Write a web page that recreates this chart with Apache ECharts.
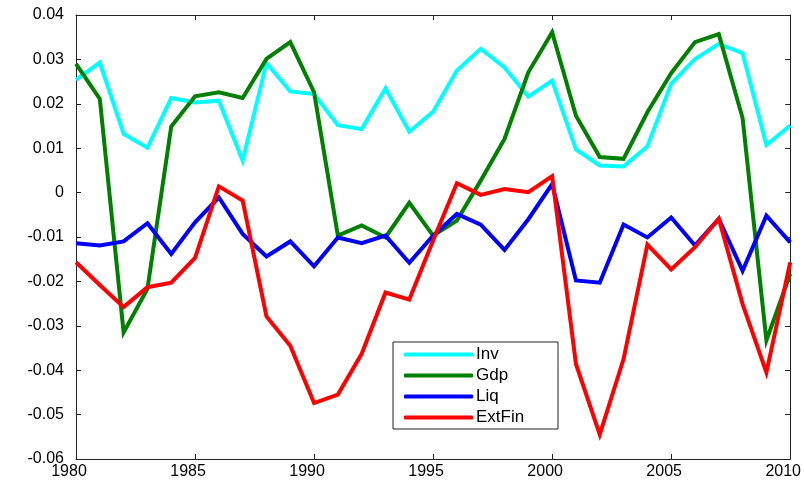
<!DOCTYPE html>
<html>
<head>
<meta charset="utf-8">
<script src="https://cdn.jsdelivr.net/npm/echarts@6/dist/echarts.min.js"></script>
<style>html,body{margin:0;padding:0;background:#fff}#c{width:804px;height:485px}</style>
</head>
<body>
<div id="c"></div>
<script>
const years = [1980,1981,1982,1983,1984,1985,1986,1987,1988,1989,1990,1991,1992,1993,1994,1995,1996,1997,1998,1999,2000,2001,2002,2003,2004,2005,2006,2007,2008,2009,2010];
const inv = [0.0254,0.0293,0.0132,0.0101,0.0213,0.0203,0.0207,0.0072,0.0292,0.0228,0.0222,0.0152,0.0143,0.0235,0.0137,0.0182,0.0275,0.0324,0.0282,0.0216,0.0252,0.0097,0.0061,0.0059,0.0104,0.0245,0.0301,0.0335,0.0314,0.0107,0.0151];
const gdp = [0.0290,0.0211,-0.0315,-0.0217,0.0149,0.0217,0.0226,0.0213,0.0301,0.0339,0.0226,-0.0097,-0.0074,-0.0101,-0.0023,-0.0097,-0.0063,0.0027,0.0121,0.0271,0.0361,0.0173,0.0080,0.0076,0.0181,0.0269,0.0339,0.0357,0.0168,-0.0333,-0.0183];
const liq = [-0.0114,-0.0119,-0.0110,-0.0069,-0.0138,-0.0067,-0.0011,-0.0093,-0.0144,-0.0110,-0.0166,-0.0101,-0.0114,-0.0097,-0.0158,-0.0097,-0.0048,-0.0072,-0.0129,-0.0060,0.0019,-0.0198,-0.0203,-0.0072,-0.0101,-0.0056,-0.0119,-0.0059,-0.0176,-0.0052,-0.0112];
const extFin = [-0.0157,-0.0208,-0.0258,-0.0213,-0.0203,-0.0147,0.0014,-0.0018,-0.0279,-0.0345,-0.0474,-0.0455,-0.0363,-0.0225,-0.0241,-0.0108,0.0021,-0.0005,0.0008,0.0001,0.0037,-0.0386,-0.0545,-0.0375,-0.0117,-0.0173,-0.0123,-0.0059,-0.0251,-0.0405,-0.0157];
const seriesNames = ['Inv','Gdp','Liq','ExtFin'];
const seriesColors = ['#00FFFF','#008000','#0000FF','#FF0000'];
const yTickLabels = {'0.04':'0.04','0.03':'0.03','0.02':'0.02','0.01':'0.01','0':'0','-0.01':'-0.01','-0.02':'-0.02','-0.03':'-0.03','-0.04':'-0.04','-0.05':'-0.05','-0.06':'-0.06'};

const FONT = '"Liberation Sans",Arial,sans-serif';
const pair = arr => years.map((y,i)=>[y,arr[i]]);
const allData = [inv,gdp,liq,extFin];

const axisLineStyle = {color:'#222', width:1};
const chart = echarts.init(document.getElementById('c'), null, {renderer:'canvas'});
chart.setOption({
  animation:false,
  backgroundColor:'#fff',
  grid:{left:76,right:11,top:15,bottom:26,containLabel:false},
  xAxis:[
    {type:'value',min:1980,max:2010,interval:5,position:'bottom',
     axisLine:{show:true,onZero:false,lineStyle:axisLineStyle},
     axisTick:{show:true,inside:true,length:5,lineStyle:axisLineStyle},
     splitLine:{show:false},
     axisLabel:{color:'#000',fontFamily:FONT,fontSize:16,margin:5,padding:[0,14,0,0],formatter:v=>String(v)}},
    {type:'value',min:1980,max:2010,interval:5,position:'top',
     axisLine:{show:true,onZero:false,lineStyle:axisLineStyle},
     axisTick:{show:true,inside:true,length:5,lineStyle:axisLineStyle},
     splitLine:{show:false},axisLabel:{show:false}}
  ],
  yAxis:[
    {type:'value',min:-0.06,max:0.04,interval:0.01,position:'left',
     axisLine:{show:true,onZero:false,lineStyle:axisLineStyle},
     axisTick:{show:true,inside:true,length:5,lineStyle:axisLineStyle},
     splitLine:{show:false},
     axisLabel:{color:'#000',fontFamily:FONT,fontSize:16,margin:12,
       formatter:v=>{const k=String(Math.round(v*100)/100);return yTickLabels[k]!==undefined?yTickLabels[k]:k;}}},
    {type:'value',min:-0.06,max:0.04,interval:0.01,position:'right',
     axisLine:{show:true,onZero:false,lineStyle:axisLineStyle},
     axisTick:{show:true,inside:true,length:5,lineStyle:axisLineStyle},
     splitLine:{show:false},axisLabel:{show:false}}
  ],
  legend:{
    show:true,orient:'vertical',left:394,top:343,
    data:seriesNames,
    icon:'roundRect',itemWidth:69,itemHeight:4,itemGap:4,
    padding:[3,10,4,10],
    textStyle:{color:'#000',fontFamily:FONT,fontSize:17,lineHeight:17,padding:[0,0,0,-2]},
    z:10
  },
  graphic:[{type:'rect',shape:{x:393,y:342,width:165,height:87},style:{fill:'#fff',stroke:'#222',lineWidth:1},z:5,silent:true}],
  series: seriesNames.map((n,i)=>({
    name:n,type:'line',data:pair(allData[i]),
    showSymbol:false,symbol:'none',
    lineStyle:{color:seriesColors[i],width:4,join:'miter'},
    itemStyle:{color:seriesColors[i]},
    z:2+i
  }))
});
</script>
</body>
</html>
